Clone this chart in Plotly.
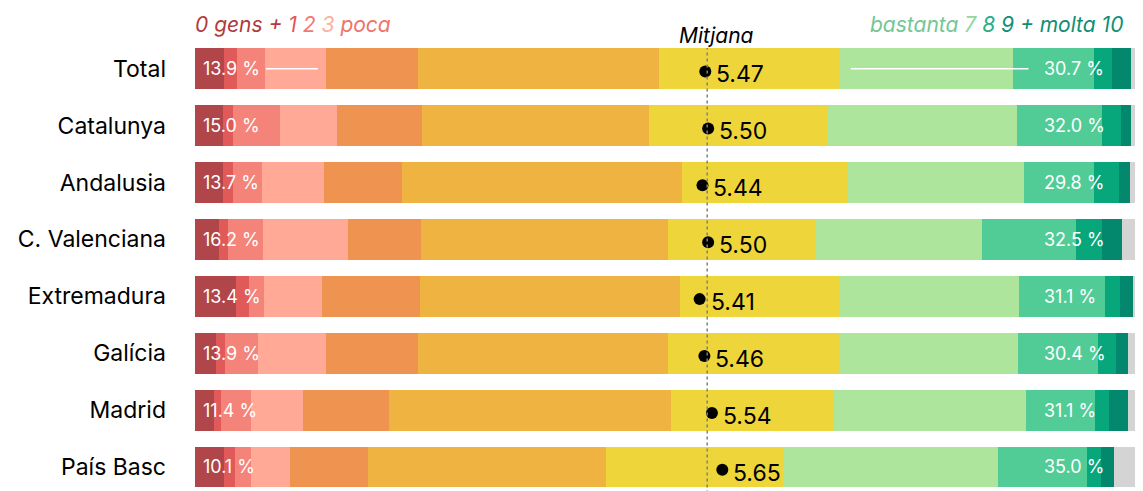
import plotly.graph_objects as go

regions = ["Total", "Catalunya", "Andalusia", "C. Valenciana", "Extremadura",
           "Galícia", "Madrid", "País Basc"]

# Percentage of answers for each score 0..10 and NS/NC
v0 = [3.1, 3.0, 3.0, 2.5, 4.3, 2.2, 2.0, 3.1]
v1 = [1.3, 1.0, 1.0, 1.0, 1.4, 1.0, 0.7, 1.1]
v2 = [3.0, 5.0, 3.1, 3.7, 1.6, 3.5, 3.2, 1.7]
v3 = [6.5, 6.0, 6.6, 9.0, 6.1, 7.2, 5.5, 4.2]
v4 = [9.7, 9.0, 8.2, 7.7, 10.4, 9.7, 9.1, 8.2]
v5 = [25.5, 24.0, 29.6, 26.1, 27.5, 26.4, 29.9, 25.2]
v6 = [19.2, 19.0, 17.6, 15.6, 16.9, 18.3, 17.2, 18.7]
v7 = [18.3, 20.0, 18.6, 17.7, 19.0, 18.8, 20.3, 22.8]
v8 = [8.5, 9.0, 7.4, 9.9, 9.1, 8.5, 7.3, 9.4]
v9 = [1.9, 2.0, 2.7, 2.8, 1.6, 1.9, 1.5, 1.5]
v10 = [2.0, 1.0, 1.1, 2.1, 1.4, 1.2, 2.0, 1.3]
ns = [1.0, 1.0, 1.1, 1.9, 0.7, 1.3, 1.3, 2.8]

means = [5.47, 5.50, 5.44, 5.50, 5.41, 5.46, 5.54, 5.65]
mean_ref = 5.49

series = [v0, v1, v2, v3, v4, v5, v6, v7, v8, v9, v10, ns]
series_names = ["0", "1", "2", "3", "4", "5", "6", "7", "8", "9", "10", "NS/NC"]
colors = ["#b0464a", "#e05a5a", "#f4837a", "#ffa996", "#ee9450", "#eeb340",
          "#eed53a", "#ade59c", "#52cc96", "#08a67b", "#03886e", "#d4d4d4"]

FONT = "Inter"
ypos = list(range(len(regions)))

fig = go.Figure()
for vals, name, col in zip(series, series_names, colors):
    fig.add_trace(go.Bar(
        x=vals, y=ypos, orientation="h", name=name,
        marker=dict(color=col, line=dict(width=0)),
        width=0.72, showlegend=False, hoverinfo="x+name",
    ))

# mean dots
fig.add_trace(go.Scatter(
    x=means, y=[p + 0.05 for p in ypos], xaxis="x2", mode="markers",
    marker=dict(color="black", size=12), showlegend=False, hoverinfo="x",
))

annotations = []
low = [round(a + b + c + d, 1) for a, b, c, d in zip(v0, v1, v2, v3)]
high = [round(a + b + c + d, 1) for a, b, c, d in zip(v7, v8, v9, v10)]
for i in ypos:
    annotations.append(dict(
        x=0, y=i, xref="x", yref="y", text=f"{low[i]:.1f} %",
        xanchor="left", yanchor="middle", xshift=6, showarrow=False,
        font=dict(family=FONT, size=18, color="white")))
    annotations.append(dict(
        x=89.6, y=i, xref="x", yref="y", text=f"{high[i]:.1f} %",
        xanchor="left", yanchor="middle", showarrow=False,
        font=dict(family=FONT, size=18, color="white")))
    annotations.append(dict(
        x=means[i], y=i + 0.1, xref="x2", yref="y", text=f"{means[i]:.2f}",
        xanchor="left", yanchor="middle", xshift=9, showarrow=False,
        font=dict(family=FONT, size=23, color="black")))

annotations.append(dict(
    x=-0.002, y=1.0356, xref="paper", yref="paper", xanchor="left", yanchor="middle",
    showarrow=False, font=dict(family=FONT, size=21),
    text=("<i><span style='color:#b23a3e'>0 gens + </span>"
          "<span style='color:#e25656'>1 </span>"
          "<span style='color:#f27a70'>2 </span>"
          "<span style='color:#ffb0a2'>3 </span>"
          "<span style='color:#ef7468'>poca</span></i>")))
annotations.append(dict(
    x=0.985, y=1.0356, xref="paper", yref="paper", xanchor="right", yanchor="middle",
    showarrow=False, font=dict(family=FONT, size=21),
    text=("<i><span style='color:#74c694'>bastanta </span>"
          "<span style='color:#96d69c'>7 </span>"
          "<span style='color:#2aae85'>8 </span>"
          "<span style='color:#108e73'>9 + molta 10</span></i>")))
annotations.append(dict(
    x=0.552, y=1.009, xref="paper", yref="paper", xanchor="center", yanchor="middle",
    showarrow=False, text="<i>Mitjana</i>",
    font=dict(family=FONT, size=21, color="black")))

cum6 = [round(sum(s[i] for s in series[:7]), 1) for i in ypos]
shapes = [
    dict(type="line", xref="x2", yref="paper", x0=mean_ref, x1=mean_ref,
         y0=-0.01, y1=0.982, line=dict(color="#808080", width=1.5, dash="3px,3px"),
         layer="above"),
    dict(type="line", xref="x", yref="y", x0=7.5, x1=low[0] - 0.9, y0=0, y1=0,
         line=dict(color="white", width=1.5), layer="above"),
    dict(type="line", xref="x", yref="y", x0=cum6[0] + 1.1, x1=88.2, y0=0, y1=0,
         line=dict(color="white", width=1.5), layer="above"),
]

fig.update_layout(
    width=1135, height=483,
    margin=dict(l=187, r=3, t=32, b=2),
    barmode="stack", bargap=0,
    plot_bgcolor="white", paper_bgcolor="white",
    font=dict(family=FONT),
    xaxis=dict(range=[0, 100], visible=False, fixedrange=True),
    xaxis2=dict(range=[0.07, 10.07], overlaying="x", visible=False, fixedrange=True),
    yaxis=dict(range=[7.387, -0.504], tickvals=ypos, ticktext=regions,
               showgrid=False, zeroline=False, showline=False, ticks="",
               ticklabelstandoff=28, automargin=False,
               tickfont=dict(family=FONT, size=23, color="black")),
    annotations=annotations,
    shapes=shapes,
)

fig.write_html("out.html")
